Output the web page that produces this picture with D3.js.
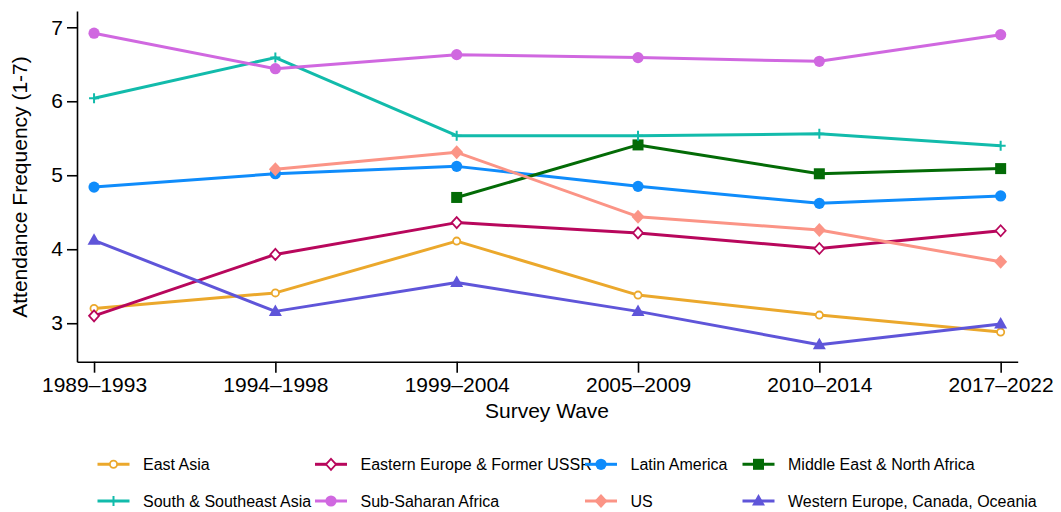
<!DOCTYPE html>
<html>
<head>
<meta charset="utf-8">
<script src="https://cdn.jsdelivr.net/npm/d3@7"></script>
<style>
  html, body { margin: 0; padding: 0; background: #fff; }
  svg { display: block; font-family: "Liberation Sans", Arial, sans-serif; }
</style>
</head>
<body>
<svg id="chart" width="1061" height="512"></svg>
<script>
// Survey waves (x categories)
const waves = ["1989–1993", "1994–1998", "1999–2004", "2005–2009", "2010–2014", "2017–2022"];
const yTicks = [3, 4, 5, 6, 7];

// Mean attendance frequency by region (null = region not surveyed in that wave)
const eastAsia        = [3.20, 3.41, 4.11, 3.38, 3.11, 2.88];
const easternEurope   = [3.10, 3.93, 4.36, 4.22, 4.01, 4.25];
const latinAmerica    = [4.84, 5.02, 5.12, 4.85, 4.62, 4.72];
const middleEast      = [null, null, 4.70, 5.41, 5.02, 5.09];
const southAsia       = [6.04, 6.59, 5.535, 5.535, 5.56, 5.40];
const subSaharan      = [6.92, 6.44, 6.63, 6.59, 6.54, 6.90];
const unitedStates    = [null, 5.08, 5.31, 4.44, 4.26, 3.83];
const westernEurope   = [4.12, 3.16, 3.55, 3.16, 2.71, 2.99];

const regionNames = [
  "East Asia", "Eastern Europe & Former USSR", "Latin America", "Middle East & North Africa",
  "South & Southeast Asia", "Sub-Saharan Africa", "US", "Western Europe, Canada, Oceania"
];
const regionValues = [eastAsia, easternEurope, latinAmerica, middleEast,
                      southAsia, subSaharan, unitedStates, westernEurope];
const regionColors = ["#eba82c", "#b8075c", "#0f8cfb", "#036b06",
                      "#12bbab", "#d068e0", "#fb9486", "#5f55d9"];
const regionMarkers = ["hollowCircle", "hollowDiamond", "circle", "square",
                       "plus", "circle", "diamond", "triangle"];

const series = regionNames.map((name, i) => ({
  name, values: regionValues[i], color: regionColors[i], marker: regionMarkers[i]
}));

const svg = d3.select("#chart");

const x = d3.scalePoint().domain(waves).range([77, 1017.7]).padding(0.094);
const y = d3.scaleLinear().domain([2.48, 7.22]).range([361.7, 11]);

// Axes
const xAxis = d3.axisBottom(x).tickSize(11).tickSizeOuter(0).tickPadding(4);
const yAxis = d3.axisLeft(y).tickValues(yTicks).tickFormat(d3.format("d"))
  .tickSize(10).tickSizeOuter(0).tickPadding(4);

const gx = svg.append("g").attr("transform", "translate(0,361.7)").call(xAxis);
const gy = svg.append("g").attr("transform", "translate(77,0)").call(yAxis);
[gx, gy].forEach(g => {
  g.selectAll("path.domain").attr("stroke", "#000").attr("stroke-width", 1.6);
  g.selectAll(".tick line").attr("stroke", "#000").attr("stroke-width", 1.6);
  g.selectAll(".tick text").attr("fill", "#000").style("font-size", "21px")
    .style("font-family", "'Liberation Sans', Arial, sans-serif");
});

// Axis titles
svg.append("text")
  .attr("x", 547).attr("y", 418)
  .attr("text-anchor", "middle")
  .style("font-size", "21px")
  .text("Survey Wave");

svg.append("text")
  .attr("transform", "translate(27,187) rotate(-90)")
  .attr("text-anchor", "middle")
  .style("font-size", "21px")
  .text("Attendance Frequency (1-7)");

// Marker drawing
function drawMarker(g, type, color, cx, cy) {
  const m = g.append("g").attr("transform", `translate(${cx},${cy})`);
  switch (type) {
    case "circle":
      m.append("circle").attr("r", 5.6).attr("fill", color);
      break;
    case "hollowCircle":
      m.append("circle").attr("r", 3.6).attr("fill", "#fff")
        .attr("stroke", color).attr("stroke-width", 1.8);
      break;
    case "square":
      m.append("rect").attr("x", -5.5).attr("y", -5.5).attr("width", 11).attr("height", 11)
        .attr("fill", color);
      break;
    case "diamond":
      m.append("path").attr("d", "M0,-7L6.5,0L0,7L-6.5,0Z").attr("fill", color);
      break;
    case "hollowDiamond":
      m.append("path").attr("d", "M0,-5.5L5,0L0,5.5L-5,0Z").attr("fill", "#fff")
        .attr("stroke", color).attr("stroke-width", 1.8);
      break;
    case "triangle":
      m.append("path").attr("d", "M0,-7L6.5,4.5L-6.5,4.5Z").attr("fill", color);
      break;
    case "plus":
      m.append("path").attr("d", "M-5,0H5M0,-5V5").attr("stroke", color)
        .attr("stroke-width", 2).attr("fill", "none");
      break;
  }
}

// Lines and markers
const line = d3.line()
  .defined(d => d.v != null)
  .x(d => x(d.w))
  .y(d => y(d.v));

const plot = svg.append("g");
series.forEach(s => {
  const pts = waves.map((w, i) => ({ w, v: s.values[i] }));
  const g = plot.append("g");
  g.append("path")
    .attr("d", line(pts))
    .attr("fill", "none")
    .attr("stroke", s.color)
    .attr("stroke-width", 3)
    .attr("stroke-linejoin", "round");
  pts.filter(p => p.v != null).forEach(p => drawMarker(g, s.marker, s.color, x(p.w), y(p.v)));
});

// Legend: 4 columns x 2 rows
const legendCols = [113.5, 331, 601, 758.5];
const legendRows = [464.3, 501];
const legend = svg.append("g");
series.forEach((s, i) => {
  const cx = legendCols[i % 4];
  const cy = legendRows[Math.floor(i / 4)];
  const g = legend.append("g");
  g.append("line")
    .attr("x1", cx - 16).attr("x2", cx + 16)
    .attr("y1", cy).attr("y2", cy)
    .attr("stroke", s.color).attr("stroke-width", 3);
  drawMarker(g, s.marker, s.color, cx, cy);
  g.append("text")
    .attr("x", cx + 29.5).attr("y", cy)
    .attr("dy", "0.35em")
    .style("font-size", "16px")
    .attr("fill", "#000")
    .text(s.name);
});
</script>
</body>
</html>
